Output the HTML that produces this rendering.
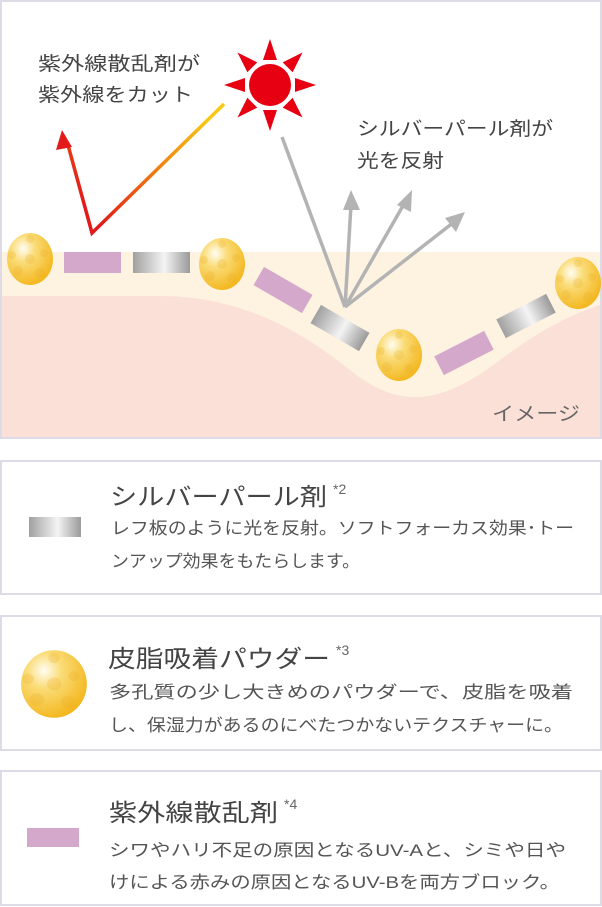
<!DOCTYPE html>
<html><head><meta charset="utf-8"><style>
html,body{margin:0;padding:0;background:#fff;}
svg{display:block;font-family:"Liberation Sans","Noto Sans CJK JP",sans-serif;}
</style></head><body>
<svg width="602" height="907" viewBox="0 0 602 907" xmlns="http://www.w3.org/2000/svg">
<defs>
<radialGradient id="ball" cx="0.35" cy="0.3" r="0.75">
<stop offset="0" stop-color="#fffdf2"/><stop offset="0.35" stop-color="#fadc78"/><stop offset="1" stop-color="#f3b51a"/>
</radialGradient>
<linearGradient id="silver" x1="0" y1="0" x2="1" y2="0">
<stop offset="0" stop-color="#a0a0a0"/><stop offset="0.55" stop-color="#f4f4f4"/><stop offset="1" stop-color="#9a9a9a"/>
</linearGradient>
<linearGradient id="uv" x1="195" y1="104" x2="80" y2="200" gradientUnits="userSpaceOnUse">
<stop offset="0" stop-color="#f9c813"/><stop offset="0.5" stop-color="#ef7a10"/><stop offset="1" stop-color="#e21a1a"/>
</linearGradient>
<g id="b"><ellipse cx="0" cy="0" rx="23" ry="26" fill="url(#ball)"/>
<g fill="#eaaa20" opacity="0.22"><circle cx="0" cy="0" r="5"/><circle cx="-12" cy="12" r="5"/><circle cx="10" cy="14" r="5"/><circle cx="14" cy="-6" r="4"/><circle cx="-18" cy="-4" r="4"/><circle cx="0" cy="-20" r="4"/></g></g>
</defs>
<rect x="1" y="1" width="600" height="437" fill="#fff" stroke="#dcdbe6" stroke-width="2"/>
<rect x="2" y="252" width="598" height="185" fill="#fef3e1"/>
<path d="M2 296 L160 296 C240 296 300 330 350 370 C400 410 440 405 500 360 C540 330 570 315 600 305 L600 437 L2 437 Z" fill="#fbe0d8"/>
<g fill="#e60012" transform="translate(270,85)">
<circle r="21"/>
<g id="ray"><polygon points="-7,-25 7,-25 0,-46"/></g>
<use href="#ray" transform="rotate(45)"/><use href="#ray" transform="rotate(90)"/><use href="#ray" transform="rotate(135)"/>
<use href="#ray" transform="rotate(180)"/><use href="#ray" transform="rotate(225)"/><use href="#ray" transform="rotate(270)"/><use href="#ray" transform="rotate(315)"/>
</g>
<polyline points="224,104 92,233 68,145" fill="none" stroke="url(#uv)" stroke-width="3.5"/>
<polygon points="62,130 56,150 72,147" fill="#e21a1a"/>
<g stroke="#b3b3b3" stroke-width="3.5" fill="none">
<line x1="282" y1="137" x2="345" y2="307"/>
<line x1="345" y1="307" x2="351" y2="205"/>
<line x1="345" y1="307" x2="404" y2="204"/>
<line x1="345" y1="307" x2="454" y2="222"/>
</g>
<g fill="#b3b3b3">
<polygon points="351,190 343,210 360,210"/>
<polygon points="412,190 397,205 411,212"/>
<polygon points="465,212 445,218 456,232"/>
</g>
<use href="#b" transform="translate(30,259)"/>
<use href="#b" transform="translate(222,264)"/>
<use href="#b" transform="translate(399,355)"/>
<use href="#b" transform="translate(578,283)"/>
<rect x="64" y="252" width="57" height="21" fill="#d3a8ca"/>
<rect x="133" y="252" width="57" height="21" fill="url(#silver)"/>
<rect x="-28" y="-10.5" width="56" height="21" fill="#d3a8ca" transform="translate(283,290) rotate(30)"/>
<rect x="-28" y="-10.5" width="56" height="21" fill="url(#silver)" transform="translate(340,328) rotate(30)"/>
<rect x="-28" y="-10.5" width="56" height="21" fill="#d3a8ca" transform="translate(464,353) rotate(-27)"/>
<rect x="-28" y="-10.5" width="56" height="21" fill="url(#silver)" transform="translate(526,316) rotate(-27)"/>
<g fill="#444" font-size="19" lengthAdjust="spacingAndGlyphs">
<text x="38" y="70" textLength="162" lengthAdjust="spacingAndGlyphs">紫外線散乱剤が</text>
<text x="38" y="101" textLength="155" lengthAdjust="spacingAndGlyphs">紫外線をカット</text>
<text x="357" y="135" textLength="196" lengthAdjust="spacingAndGlyphs">シルバーパール剤が</text>
<text x="357" y="167" textLength="87" lengthAdjust="spacingAndGlyphs">光を反射</text>
<text x="492" y="420" fill="#666" textLength="88" lengthAdjust="spacingAndGlyphs">イメージ</text>
</g>
<rect x="1" y="461" width="600" height="133" fill="#fff" stroke="#dcdbe6" stroke-width="2"/>
<rect x="29" y="517" width="52" height="20" fill="url(#silver)"/>
<text x="110" y="505" font-size="24" fill="#444" textLength="217" lengthAdjust="spacingAndGlyphs">シルバーパール剤</text>
<text x="333" y="494" font-size="14" fill="#666">*2</text>
<text x="111" y="534" font-size="17" fill="#555" textLength="463" lengthAdjust="spacingAndGlyphs">レフ板のように光を反射。ソフトフォーカス効果･トー</text>
<text x="111" y="567" font-size="17" fill="#555" textLength="249" lengthAdjust="spacingAndGlyphs">ンアップ効果をもたらします。</text>
<rect x="1" y="616" width="600" height="134" fill="#fff" stroke="#dcdbe6" stroke-width="2"/>
<use href="#b" transform="translate(54,684) scale(1.43,1.3)"/>
<text x="108" y="667" font-size="24" fill="#444" textLength="222" lengthAdjust="spacingAndGlyphs">皮脂吸着パウダー</text>
<text x="336" y="655" font-size="14" fill="#666">*3</text>
<text x="109" y="698" font-size="17" fill="#555" textLength="464" lengthAdjust="spacingAndGlyphs">多孔質の少し大きめのパウダーで、皮脂を吸着</text>
<text x="109" y="731" font-size="17" fill="#555" textLength="454" lengthAdjust="spacingAndGlyphs">し、保湿力があるのにべたつかないテクスチャーに。</text>
<rect x="1" y="771" width="600" height="134" fill="#fff" stroke="#dcdbe6" stroke-width="2"/>
<rect x="27" y="828" width="52" height="19" fill="#d3a8ca"/>
<text x="109" y="821" font-size="24" fill="#444" textLength="169" lengthAdjust="spacingAndGlyphs">紫外線散乱剤</text>
<text x="284" y="809" font-size="14" fill="#666">*4</text>
<text x="109" y="856" font-size="17" fill="#555" textLength="457" lengthAdjust="spacingAndGlyphs">シワやハリ不足の原因となるUV-Aと、シミや日や</text>
<text x="109" y="888" font-size="17" fill="#555" textLength="451" lengthAdjust="spacingAndGlyphs">けによる赤みの原因となるUV-Bを両方ブロック。</text>
</svg>
</body></html>
